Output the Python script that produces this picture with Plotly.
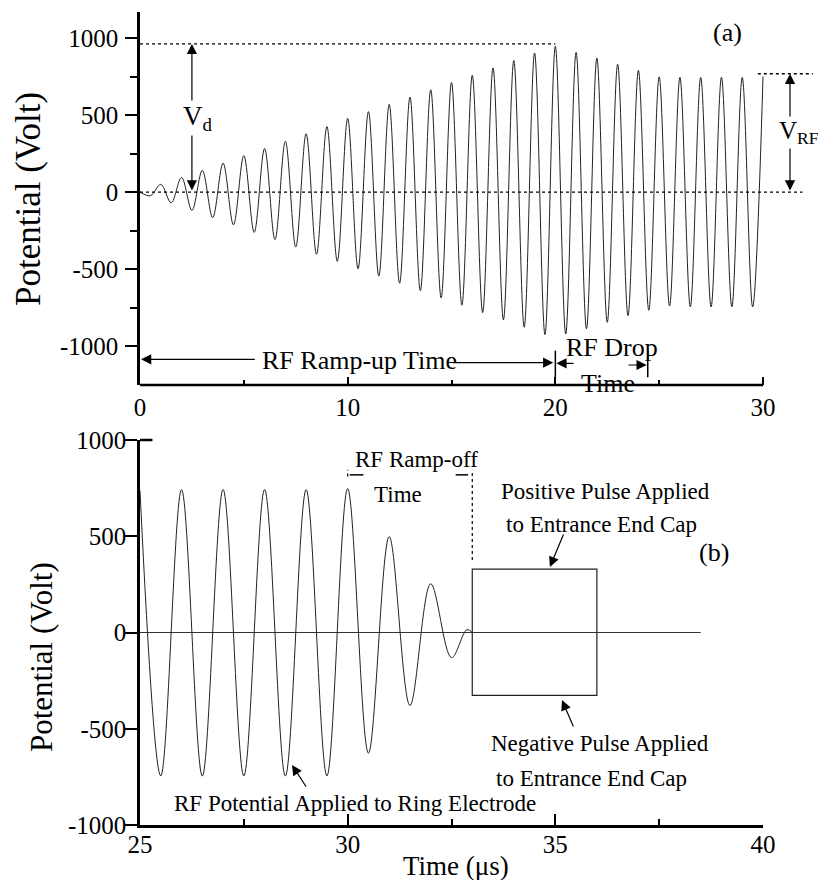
import plotly.graph_objects as go

FONT = "Liberation Serif"
INK = "black"

# ---------------- Panel (a): RF ramp-up and drop (extrema of the RF waveform) ----------------
t_a = [0, 0.5, 1, 1.5, 2, 2.5, 3, 3.5, 4, 4.5, 5, 5.5, 6, 6.5, 7, 7.5, 8, 8.5, 9, 9.5,
       10, 10.5, 11, 11.5, 12, 12.5, 13, 13.5, 14, 14.5, 15, 15.5, 16, 16.5, 17, 17.5,
       18, 18.5, 19, 19.5, 20, 20.5, 21, 21.5, 22, 22.5, 23, 23.5, 24, 24.5, 25, 25.5,
       26, 26.5, 27, 27.5, 28, 28.5, 29, 29.5, 30]
v_a = [0, -24, 50, -70, 95, -119, 140, -166, 188, -213, 236, -262, 283, -309, 330, -357,
       378, -404, 425, -450, 478, -498, 522, -546, 569, -592, 616, -640, 664, -688, 711,
       -735, 758, -783, 806, -830, 854, -878, 903, -926, 946, -922, 907, -888, 869, -846,
       830, -803, 790, -768, 748, -740, 745, -746, 744, -746, 745, -745, 744, -746, 750]

vd_level = 962        # dotted V_d reference level
vrf_level = 768       # dotted V_RF reference level
vd_line_t = [0, 20]
zero_line_t = [0, 31.9]
vrf_line_t = [29.75, 32.4]
vd_arrow_t = 2.5
vrf_arrow_t = 31.3
ramp_up_end = 20
rf_drop_end = 24.45

# ---------------- Panel (b): RF ramp-off and end-cap pulses ----------------
t_b = [25, 25.5, 26, 26.5, 27, 27.5, 28, 28.5, 29, 29.5, 30, 30.5, 31, 31.5, 32, 32.5, 32.87, 33]
v_b = [737, -745, 742, -746, 743, -745, 743, -746, 742, -745, 748, -627, 498, -379, 253, -131, 15, 0]

pulse_t = [33, 33, 36, 36]
pulse_pos = [0, 329, 329, 0]
pulse_neg = [0, -327, -327, 0]
baseline_t = [25, 38.5]
baseline_v = [0, 0]
rampoff_start = 30
rampoff_end = 33

y_ticks = [-1000, -500, 0, 500, 1000]
y_ticktext = ["-1000", "-500", "0", "500", "1000"]

# ---------------- page geometry (page body has an 8 px margin) ----------------
OX, OY = 8, 8
W, H = 826 - 2 * OX, 888 - 2 * OY


def px_x(p):
    return (p - OX) / W


def px_y(p):
    return 1 - (p - OY) / H


xa_range = [0, 32.6]
ya_range = [-1253, 1169]
xb_range = [25, 40]
yb_range = [-1000, 1000]

fig = go.Figure()

wave = dict(color="#222222", width=1)
dot = dict(color=INK, width=1.3, dash="dot")

# panel (a)
fig.add_trace(go.Scatter(x=t_a, y=v_a, mode="lines", line=dict(shape="spline", **wave),
                         xaxis="x", yaxis="y"))
fig.add_trace(go.Scatter(x=vd_line_t, y=[vd_level, vd_level], mode="lines", line=dot,
                         xaxis="x", yaxis="y"))
fig.add_trace(go.Scatter(x=zero_line_t, y=[0, 0], mode="lines", line=dot, xaxis="x", yaxis="y"))
fig.add_trace(go.Scatter(x=vrf_line_t, y=[vrf_level, vrf_level], mode="lines", line=dot,
                         xaxis="x", yaxis="y"))
bar = dict(color=INK, width=1.5)
fig.add_trace(go.Scatter(x=[ramp_up_end, ramp_up_end], y=[-1030, -1212], mode="lines", line=bar,
                         xaxis="x", yaxis="y"))
fig.add_trace(go.Scatter(x=[rf_drop_end, rf_drop_end], y=[-1030, -1203], mode="lines", line=bar,
                         xaxis="x", yaxis="y"))

# panel (b)
fig.add_trace(go.Scatter(x=baseline_t, y=baseline_v, mode="lines", line=dict(color="#333333", width=1.2),
                         xaxis="x2", yaxis="y2"))
fig.add_trace(go.Scatter(x=t_b, y=v_b, mode="lines", line=dict(shape="spline", **wave),
                         xaxis="x2", yaxis="y2"))
fig.add_trace(go.Scatter(x=pulse_t, y=pulse_pos, mode="lines", line=dict(color="#222222", width=1.2),
                         xaxis="x2", yaxis="y2"))
fig.add_trace(go.Scatter(x=pulse_t, y=pulse_neg, mode="lines", line=dict(color="#222222", width=1.2),
                         xaxis="x2", yaxis="y2"))
fig.add_trace(go.Scatter(x=[rampoff_end, rampoff_end], y=[377, 845], mode="lines",
                         line=dict(color=INK, width=1.2, dash="dot"), xaxis="x2", yaxis="y2"))
fig.add_trace(go.Scatter(x=[rampoff_start, rampoff_start], y=[810, 846], mode="lines",
                         line=dict(color=INK, width=1.2, dash="dot"), xaxis="x2", yaxis="y2"))
fig.add_trace(go.Scatter(x=[30.05, 30.38], y=[819, 819], mode="lines",
                         line=dict(color=INK, width=1.5), xaxis="x2", yaxis="y2"))
fig.add_trace(go.Scatter(x=[32.6, 32.9], y=[819, 819], mode="lines",
                         line=dict(color=INK, width=1.5), xaxis="x2", yaxis="y2"))

tickfont = dict(family=FONT, size=25, color=INK)

fig.update_layout(
    width=W, height=H, autosize=False,
    margin=dict(l=0, r=0, t=0, b=0, pad=0, autoexpand=False),
    paper_bgcolor="white", plot_bgcolor="white",
    showlegend=False,
    font=dict(family=FONT, color=INK),
    xaxis=dict(domain=[px_x(140), px_x(817)], range=xa_range, anchor="y", automargin=False,
               showline=False, showgrid=False, zeroline=False,
               tickvals=[0, 10, 20, 30], ticks="inside", ticklen=8, tickwidth=2, tickcolor=INK,
               minor=dict(tickvals=[5, 15, 25], ticks="inside", ticklen=5, tickwidth=2, tickcolor=INK),
               tickfont=tickfont, ticklabelstandoff=5),
    yaxis=dict(domain=[px_y(385), px_y(12)], range=ya_range, anchor="x", automargin=False,
               showline=True, linewidth=2.5, linecolor=INK, showgrid=False, zeroline=False,
               tickvals=y_ticks, ticktext=y_ticktext, ticks="outside", ticklen=12, tickwidth=2,
               tickcolor=INK,
               minor=dict(tickvals=[-750, -250, 250, 750], ticks="outside", ticklen=7, tickwidth=2,
                          tickcolor=INK),
               tickfont=tickfont, ticklabelstandoff=2),
    xaxis2=dict(domain=[px_x(140), px_x(763)], range=xb_range, anchor="y2", automargin=False,
                showline=True, linewidth=2.5, linecolor=INK, showgrid=False, zeroline=False,
                tickvals=[25, 30, 35, 40], ticks="inside", ticklen=11, tickwidth=2, tickcolor=INK,
                minor=dict(tickvals=[27.5, 32.5, 37.5], ticks="inside", ticklen=6, tickwidth=2,
                           tickcolor=INK),
                tickfont=tickfont, ticklabelstandoff=-5),
    yaxis2=dict(domain=[px_y(825), px_y(440)], range=yb_range, anchor="x2", automargin=False,
                showline=True, linewidth=2.5, linecolor=INK, showgrid=False, zeroline=False,
                tickvals=y_ticks, ticktext=y_ticktext, ticks="outside", ticklen=12, tickwidth=2,
                tickcolor=INK, tickfont=tickfont, ticklabelstandoff=-6),
)

# x-axis line of panel (a) stops at 30 µs
fig.add_shape(type="line", xref="x", yref="y domain", x0=0, x1=30, y0=0, y1=0,
              line=dict(color=INK, width=2.5))
# inward corner tick at the top of panel (b)
fig.add_shape(type="line", xref="x2 domain", yref="y2 domain", x0=0, x1=0.02, y0=1, y1=1,
              line=dict(color=INK, width=2.5))

ann = []


def arrow(x, y, ax, ay, xr, yr, both=False):
    d = dict(x=x, y=y, ax=ax, ay=ay, xref=xr, yref=yr, axref=xr, ayref=yr, text="",
             showarrow=True, arrowhead=2, arrowsize=1.7, arrowwidth=1.2, arrowcolor=INK,
             standoff=0, startstandoff=0)
    if both:
        d.update(arrowside="end+start", startarrowhead=2, startarrowsize=1.7)
    return d


def label(text, x, y, xr, yr, size, **kw):
    d = dict(text=text, x=x, y=y, xref=xr, yref=yr, showarrow=False,
             xanchor="center", yanchor="middle",
             font=dict(family=FONT, size=size, color=INK))
    d.update(kw)
    return d


# panel (a) annotations
ann.append(arrow(vd_arrow_t, vd_level, vd_arrow_t, 0, "x", "y", both=True))
ann.append(label("V<sub>d</sub>", 2.02, 480, "x", "y", 27, xanchor="left", bgcolor="white", borderpad=0))
ann.append(arrow(vrf_arrow_t, vrf_level, vrf_arrow_t, 0, "x", "y", both=True))
ann.append(label("V<sub>RF</sub>", 30.72, 386, "x", "y", 25, xanchor="left", bgcolor="white", borderpad=0))
ann.append(label("(a)", 28.31, 1039, "x", "y", 26))
ann.append(label("RF Ramp-up Time", 10.55, -1095, "x", "y", 26))
ann.append(arrow(0.05, -1086, 5.6, -1086, "x", "y"))
ann.append(arrow(19.9, -1108, 15.0, -1108, "x", "y"))
ann.append(label("RF Drop", 22.75, -1010, "x", "y", 26))
ann.append(label("Time", 22.53, -1245, "x", "y", 26))
ann.append(arrow(20.05, -1112, 20.95, -1112, "x", "y"))
ann.append(arrow(24.4, -1123, 23.45, -1123, "x", "y"))

# panel (b) annotations
ann.append(label("RF Ramp-off", 31.66, 900, "x2", "y2", 23))
ann.append(label("Time", 31.2, 718, "x2", "y2", 23))
ann.append(label("Positive Pulse Applied", 36.2, 735, "x2", "y2", 23))
ann.append(label("to Entrance End Cap", 36.12, 560, "x2", "y2", 23))
ann.append(arrow(34.87, 340, 35.21, 517, "x2", "y2"))
ann.append(label("(b)", 38.82, 415, "x2", "y2", 26))
ann.append(label("Negative Pulse Applied", 36.08, -578, "x2", "y2", 23))
ann.append(label("to Entrance End Cap", 35.88, -760, "x2", "y2", 23))
ann.append(arrow(35.16, -351, 35.45, -496, "x2", "y2"))
ann.append(label("RF Potential Applied to Ring Electrode", 30.18, -888, "x2", "y2", 23))
ann.append(arrow(28.66, -688, 29.02, -808, "x2", "y2"))

# axis titles
ann.append(label("Potential (Volt)", px_x(28), px_y(199), "paper", "paper", 35, textangle=-90))
ann.append(label("Potential (Volt)", px_x(41), px_y(657), "paper", "paper", 31, textangle=-90))
ann.append(label("Time (\u03bcs)", px_x(456), px_y(866), "paper", "paper", 27))

fig.update_layout(annotations=ann)

fig.write_html("out.html")
